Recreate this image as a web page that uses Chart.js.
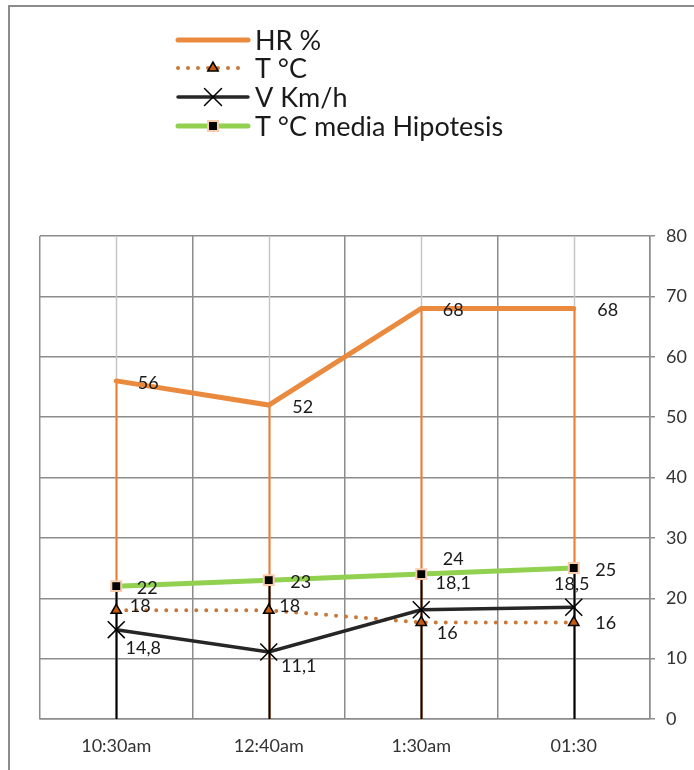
<!DOCTYPE html>
<html>
<head>
<meta charset="utf-8">
<script src="https://cdn.jsdelivr.net/npm/chart.js@4/dist/chart.umd.min.js"></script>
<style>
  body { margin: 0; background: #fff; }
  #wrap { position: relative; width: 694px; height: 770px; overflow: hidden; }
  #marco { position: absolute; left: 8px; top: 5px; width: 700px; height: 780px;
           border-top: 2px solid #8c8c8c; border-left: 2px solid #8c8c8c; }
  canvas { position: absolute; left: 0; top: 0; }
</style>
</head>
<body>
<div id="wrap">
  <div id="marco"></div>
  <canvas id="grafico" width="694" height="770"></canvas>
</div>
<script>
// datos
var horas = ['10:30am', '12:40am', '1:30am', '01:30'];
var humedad = [56, 52, 68, 68];          // HR %
var temperatura = [18, 18, 16, 16];      // T °C
var viento = [14.8, 11.1, 18.1, 18.5];   // V Km/h
var tempMedia = [22, 23, 24, 25];        // T °C media Hipotesis
var marcasY = [0, 10, 20, 30, 40, 50, 60, 70, 80];

var fuente = 'Lato, "DejaVu Sans", sans-serif';

// desplazamiento de las etiquetas respecto al punto
var desplaz = [
    [[32, 2], [34, 2], [32, 2], [34, 2]],
    [[24, -4], [21, -4], [26, 11], [32, 1]],
    [[27, 19], [30, 14], [32, -27], [-2, -23]],
    [[31, 2], [32, 2], [32, -15], [32, 2]]
];

function fmt(v) {
    return String(v).replace('.', ',');
}

// lineas de caida y rejilla en el centro de cada categoria
var lineasCaida = {
    id: 'lineasCaida',
    beforeDatasetsDraw: function(chart) {
        var ctx = chart.ctx;
        var x = chart.scales.x, y = chart.scales.y;
        var area = chart.chartArea;
        ctx.save();
        horas.forEach(function(h, i) {
            var px = Math.round(x.getPixelForValue(i)) + 0.5;
            ctx.strokeStyle = '#c6c6c6';
            ctx.lineWidth = 1.5;
            ctx.beginPath();
            ctx.moveTo(px, area.top);
            ctx.lineTo(px, area.bottom);
            ctx.stroke();
            ctx.strokeStyle = '#ed7d31';
            ctx.lineWidth = 2;
            ctx.beginPath();
            ctx.moveTo(px, y.getPixelForValue(humedad[i]));
            ctx.lineTo(px, area.bottom);
            ctx.stroke();
            ctx.strokeStyle = '#000';
            ctx.beginPath();
            ctx.moveTo(px, y.getPixelForValue(tempMedia[i]));
            ctx.lineTo(px, area.bottom);
            ctx.stroke();
        });
        ctx.restore();
    },
    afterDatasetsDraw: function(chart) {
        var ctx = chart.ctx;
        ctx.save();
        ctx.font = '18px ' + fuente;
        ctx.fillStyle = '#1a1a1a';
        ctx.textAlign = 'center';
        ctx.textBaseline = 'middle';
        chart.data.datasets.forEach(function(ds, d) {
            var meta = chart.getDatasetMeta(d);
            meta.data.forEach(function(p, i) {
                var o = desplaz[d][i];
                ctx.fillText(fmt(ds.data[i]), p.x + o[0], p.y + o[1]);
            });
        });
        ctx.restore();
    }
};

// leyenda dibujada a mano (linea con marcador en medio)
var leyenda = {
    id: 'leyenda',
    afterDraw: function(chart) {
        var ctx = chart.ctx;
        var x0 = 178, x1 = 248, filas = [40, 68, 97, 126];
        ctx.save();
        chart.data.datasets.forEach(function(ds, d) {
            var yy = filas[d];
            ctx.strokeStyle = ds.borderColor;
            ctx.lineWidth = ds.borderWidth;
            ctx.lineCap = ds.borderCapStyle || 'round';
            ctx.setLineDash(ds.borderDash || []);
            ctx.beginPath();
            ctx.moveTo(x0, yy);
            ctx.lineTo(x1, yy);
            ctx.stroke();
            ctx.setLineDash([]);
            if (ds.pointRadius > 0) {
                ctx.fillStyle = ds.pointBackgroundColor;
                ctx.strokeStyle = ds.pointBorderColor;
                ctx.lineWidth = ds.pointBorderWidth;
                Chart.helpers.drawPoint(ctx, {
                    pointStyle: ds.pointStyle,
                    radius: ds.pointRadius,
                    rotation: 0,
                    borderWidth: ds.pointBorderWidth
                }, (x0 + x1) / 2, yy);
            }
            ctx.fillStyle = '#1a1a1a';
            ctx.font = '27px ' + fuente;
            ctx.textAlign = 'left';
            ctx.textBaseline = 'middle';
            ctx.fillText(ds.label, 255, yy + 1);
        });
        ctx.restore();
    }
};

var ctx = document.getElementById('grafico').getContext('2d');

new Chart(ctx, {
    type: 'line',
    data: {
        labels: horas,
        datasets: [{
            label: 'HR %',
            data: humedad,
            borderColor: '#ea8a3e',
            borderWidth: 5,
            borderCapStyle: 'round',
            pointRadius: 0,
            order: 4
        }, {
            label: 'T °C',
            data: temperatura,
            borderColor: '#c9783a',
            borderWidth: 4,
            borderDash: [0, 10],
            borderCapStyle: 'round',
            pointStyle: 'triangle',
            pointRadius: 6,
            pointBackgroundColor: '#c55a11',
            pointBorderColor: '#000',
            pointBorderWidth: 1.5,
            order: 3
        }, {
            label: 'V Km/h',
            data: viento,
            borderColor: '#262626',
            borderWidth: 3.5,
            borderCapStyle: 'round',
            pointStyle: 'crossRot',
            pointRadius: 12,
            pointBackgroundColor: '#000',
            pointBorderColor: '#000',
            pointBorderWidth: 1.5,
            order: 2
        }, {
            label: 'T °C media Hipotesis',
            data: tempMedia,
            borderColor: '#92d050',
            borderWidth: 5,
            borderCapStyle: 'round',
            pointStyle: 'rect',
            pointRadius: 7,
            pointBackgroundColor: '#000',
            pointBorderColor: '#f8cbad',
            pointBorderWidth: 2,
            order: 1
        }]
    },
    options: {
        responsive: false,
        animation: false,
        layout: {
            padding: { left: 40, top: 236, right: 0, bottom: 0 }
        },
        plugins: {
            legend: { display: false },
            tooltip: { enabled: false }
        },
        scales: {
            x: {
                offset: true,
                grid: {
                    offset: true,
                    color: '#8c8c8c',
                    lineWidth: 1.5,
                    drawTicks: false
                },
                border: { color: '#8c8c8c', width: 1.5 },
                ticks: {
                    padding: 16,
                    color: '#333',
                    font: { family: fuente, size: 18 }
                },
                afterFit: function(s) { s.height = 51; }
            },
            y: {
                position: 'right',
                min: 0,
                max: 80,
                afterBuildTicks: function(s) {
                    s.ticks = marcasY.map(function(v) { return { value: v }; });
                },
                grid: {
                    color: '#8c8c8c',
                    lineWidth: 1.5,
                    tickLength: 5
                },
                border: { color: '#8c8c8c', width: 1.5 },
                ticks: {
                    padding: 11,
                    color: '#333',
                    font: { family: fuente, size: 18 }
                },
                afterFit: function(s) { s.width = 44; }
            }
        }
    },
    plugins: [lineasCaida, leyenda]
});
</script>
</body>
</html>
